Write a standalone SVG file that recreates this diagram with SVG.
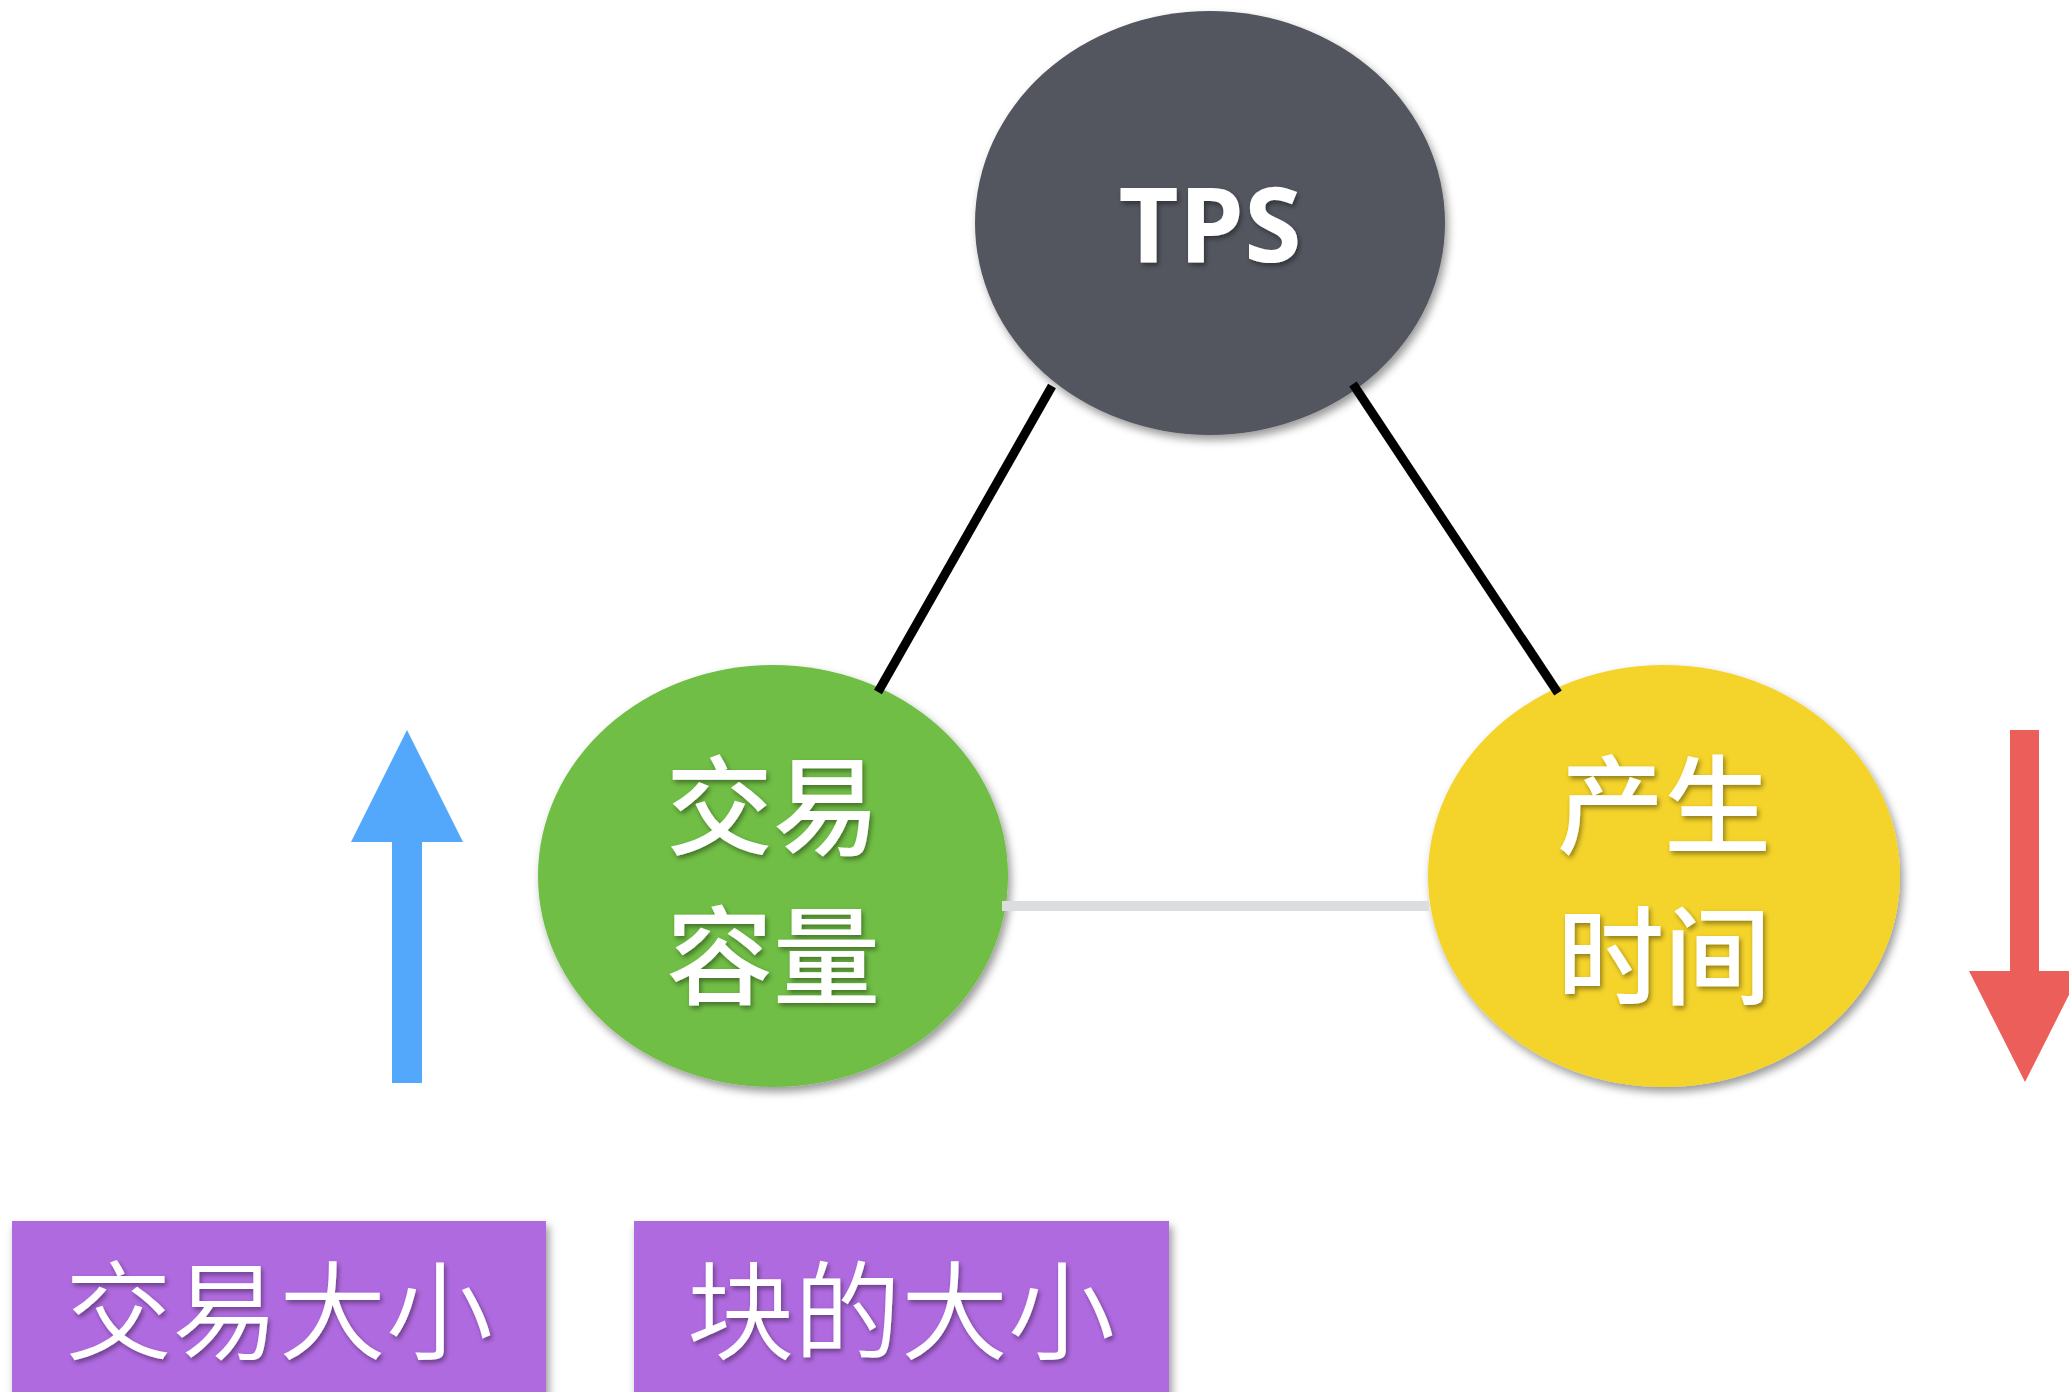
<svg xmlns="http://www.w3.org/2000/svg" width="2069" height="1392" viewBox="0 0 2069 1392">
<style>
.node-text{fill:#ffffff;font-family:"Noto Sans CJK SC","Noto Sans",sans-serif;font-weight:500;font-size:107px;text-anchor:middle;dominant-baseline:central;}
.tps-text{fill:#ffffff;font-family:"Open Sans","Noto Sans",sans-serif;font-weight:700;font-size:104px;text-anchor:middle;}
.box-text{fill:#ffffff;font-family:"Noto Sans CJK SC","Noto Sans",sans-serif;font-weight:350;font-size:107px;text-anchor:middle;dominant-baseline:central;}
.edge{stroke:#000000;stroke-width:9;fill:none;}
.edge-light{stroke:#dcdddf;stroke-width:10;fill:none;}
.box{fill:#b06ae0;}
</style>
<defs>
<filter id="shadow" x="-20%" y="-20%" width="140%" height="140%">
<feDropShadow dx="3" dy="5" stdDeviation="4" flood-color="#000000" flood-opacity="0.4"/>
</filter>
<filter id="tshadow" x="-20%" y="-20%" width="140%" height="140%">
<feDropShadow dx="2" dy="3" stdDeviation="2.5" flood-color="#000000" flood-opacity="0.4"/>
</filter>
</defs>
<rect width="2069" height="1392" fill="#ffffff"/>
<g id="node-tps">
<ellipse cx="1210" cy="223" rx="235" ry="212" fill="#52575e" filter="url(#shadow)"/>
<text class="tps-text" x="1210" y="262" filter="url(#tshadow)">TPS</text>
</g>
<g id="node-capacity">
<ellipse cx="773" cy="876" rx="235" ry="211" fill="#70be44" filter="url(#shadow)"/>
<text class="node-text" x="773" y="799" filter="url(#tshadow)">交易</text>
<text class="node-text" x="773" y="949" filter="url(#tshadow)">容量</text>
</g>
<g id="node-time">
<ellipse cx="1664" cy="876" rx="236" ry="211" fill="#f4d32a" filter="url(#shadow)"/>
<text class="node-text" x="1664" y="798" filter="url(#tshadow)">产生</text>
<text class="node-text" x="1664" y="949" filter="url(#tshadow)">时间</text>
</g>
<g id="connectors">
<line class="edge" x1="1052" y1="386" x2="878" y2="692"/>
<line class="edge" x1="1353" y1="384" x2="1558" y2="693"/>
<line class="edge-light" x1="1002" y1="906" x2="1429" y2="906"/>
</g>
<g id="arrow-up">
<polygon points="407,730 463,842 422,842 422,1083 392,1083 392,842 351,842" fill="#53a8fb"/>
</g>
<g id="arrow-down">
<polygon points="2010,730 2039,730 2039,971 2081,971 2025,1082 1969,971 2010,971" fill="#ec5e59"/>
</g>
<g id="box-tx-size">
<rect class="box" x="12" y="1221" width="534" height="180" filter="url(#shadow)"/>
<text class="box-text" x="279" y="1304" filter="url(#tshadow)">交易大小</text>
</g>
<g id="box-block-size">
<rect class="box" x="634" y="1221" width="535" height="180" filter="url(#shadow)"/>
<text class="box-text" x="901" y="1304" filter="url(#tshadow)">块的大小</text>
</g>
</svg>
